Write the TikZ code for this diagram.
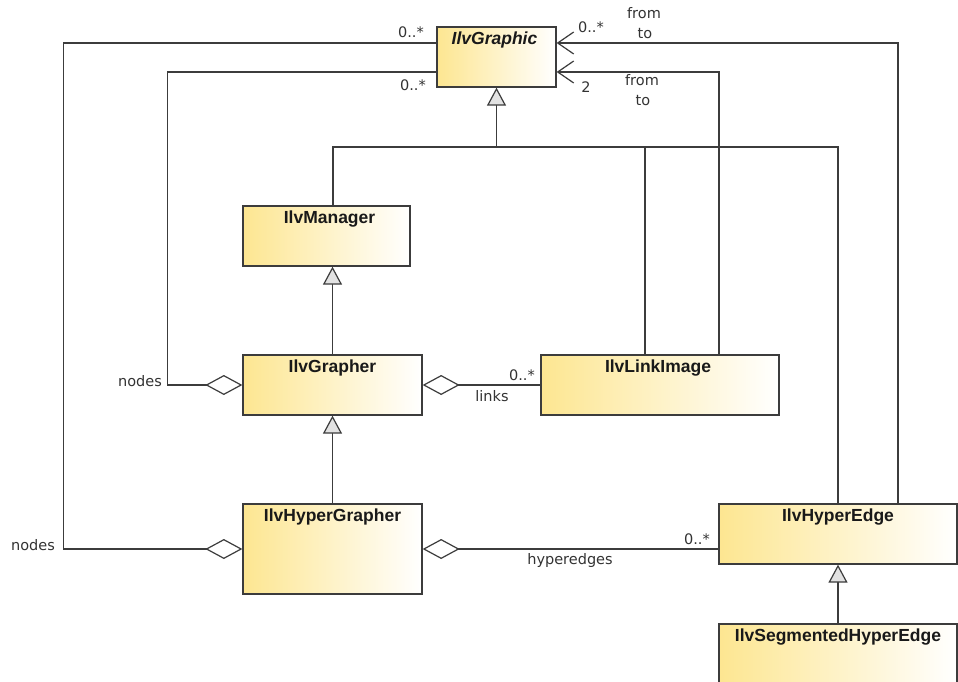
\documentclass[tikz,border=0pt]{standalone}
\usepackage{fontspec}
\setmainfont{Liberation Sans}
\newfontfamily\labelfont{DejaVu Sans}
\usetikzlibrary{arrows.meta,calc}

\definecolor{classfill}{RGB}{253,230,145}
\definecolor{inkgray}{RGB}{60,60,60}
\definecolor{trifill}{RGB}{226,226,226}

\tikzset{
  classbox/.style={draw=inkgray, line width=1.3pt, rectangle, inner sep=0pt,
    left color=classfill, right color=white, shading angle=90},
  classname/.style={anchor=base, inner sep=0pt, text=black!90,
    font=\fontsize{17.5}{18}\selectfont\bfseries},
  conn/.style={draw=inkgray, line width=1.2pt},
  gen/.style={conn, -{Triangle[length=18pt, width=19pt, fill=trifill]}},
  navig/.style={conn, -{Straight Barb[length=16pt, width=22pt]}},
  aggr/.style={conn, {Diamond[length=37pt, width=20pt, fill=white]}-},
  rolelabel/.style={inner sep=0pt, text=black!80,
    font=\labelfont\fontsize{14.5}{15}\selectfont},
}

\begin{document}
\begin{tikzpicture}[x=1pt, y=-1pt]
  \useasboundingbox (0,0) rectangle (958,682);
  \clip (0,0) rectangle (958,682);
  \fill[white] (0,0) rectangle (958,682);

  % classes
  \node[classbox, minimum width=119pt, minimum height=60pt] (graphic) at (496.5,57) {};
  \node[classbox, minimum width=167pt, minimum height=60pt] (manager) at (326.5,236) {};
  \node[classbox, minimum width=179pt, minimum height=60pt] (grapher) at (332.5,385) {};
  \node[classbox, minimum width=238pt, minimum height=60pt] (linkimg) at (660,385) {};
  \node[classbox, minimum width=179pt, minimum height=90pt] (hgrapher) at (332.5,549) {};
  \node[classbox, minimum width=238pt, minimum height=60pt] (hedge) at (838,534) {};
  \node[classbox, minimum width=238pt, minimum height=80pt] (seghedge) at (838,664) {};

  % class names
  \node[classname, font=\fontsize{17.5}{18}\selectfont\bfseries\itshape] (graphic-name) at ($(graphic.north)+(-2,18)$) {IlvGraphic};
  \node[classname] (manager-name) at ($(manager.north)+(3,18)$) {IlvManager};
  \node[classname] (grapher-name) at ($(grapher.north)+(0,18)$) {IlvGrapher};
  \node[classname] (linkimg-name) at ($(linkimg.north)+(-2,18)$) {IlvLinkImage};
  \node[classname] (hgrapher-name) at ($(hgrapher.north)+(0,18)$) {IlvHyperGrapher};
  \node[classname] (hedge-name) at ($(hedge.north)+(0,18)$) {IlvHyperEdge};
  \node[classname] (seghedge-name) at ($(seghedge.north)+(0,18)$) {IlvSegmentedHyperEdge};

  % generalization bus below IlvGraphic
  \coordinate (busL) at (333,147);
  \coordinate (busM) at (645,147);
  \coordinate (busR) at (838,147);
  \draw[gen] (busL -| graphic.south) -- (graphic.south);
  \draw[conn] (manager.north -| busL) -- (busL) -- (busR) -- (hedge.north);
  \draw[conn] (busM) -- (linkimg.north -| busM);

  % generalizations between subclasses
  \draw[gen] (grapher.north) -- (manager.south -| grapher.north);
  \draw[gen] (hgrapher.north) -- (grapher.south);
  \draw[gen] (seghedge.north) -- (hedge.south);

  % navigable associations to IlvGraphic
  \draw[navig] ([xshift=60pt]hedge.north) |- ([yshift=14pt]graphic.east);
  \draw[navig] ([xshift=59pt]linkimg.north) |- ([yshift=-15pt]graphic.east);

  % aggregations
  \draw[aggr] (hgrapher.west) -| ++(-179,0) |- ([yshift=14pt]graphic.west);
  \draw[aggr] (grapher.west) -| ++(-75,0) |- ([yshift=-15pt]graphic.west);
  \draw[aggr] (grapher.east) -- (linkimg.west);
  \draw[aggr] (hgrapher.east) -- (hgrapher.east -| hedge.west);

  % role names and multiplicities
  \node[rolelabel] (m1) at (411,32) {0..*};
  \node[rolelabel] (m2) at (413,85) {0..*};
  \node[rolelabel] (m3) at (591,27) {0..*};
  \node[rolelabel] (m4) at (586,87) {2};
  \node[rolelabel] (r1) at (644,13) {from};
  \node[rolelabel] (r2) at (645,34) {to};
  \node[rolelabel] (r3) at (642,80) {from};
  \node[rolelabel] (r4) at (643,101) {to};
  \node[rolelabel] (r5) at (140,381) {nodes};
  \node[rolelabel] (r6) at (33,545) {nodes};
  \node[rolelabel] (r7) at (492,396) {links};
  \node[rolelabel] (m5) at (522,375) {0..*};
  \node[rolelabel] (r8) at (570,560) {hyperedges};
  \node[rolelabel] (m6) at (697,539) {0..*};
\end{tikzpicture}
\end{document}
